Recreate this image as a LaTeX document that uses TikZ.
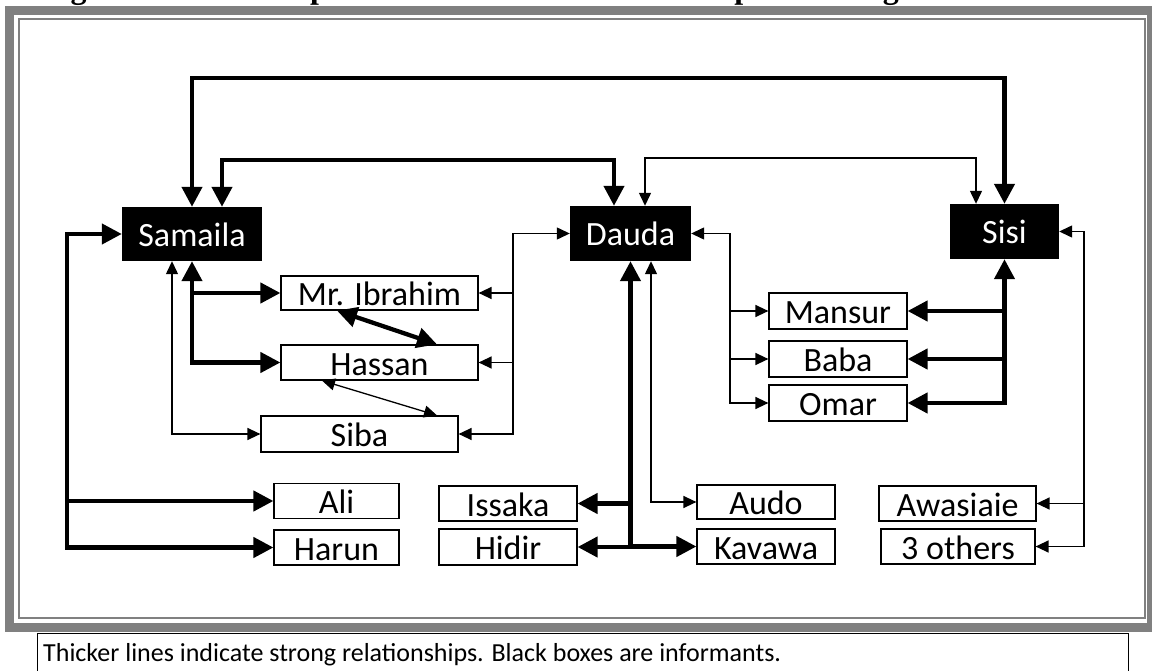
\documentclass[tikz,border=0pt]{standalone}
\usepackage{fontspec}
\setmainfont{Carlito}
\newfontfamily\titlefont{Liberation Serif}
\usetikzlibrary{arrows.meta,calc}

\definecolor{framegray}{HTML}{808080}

\tikzset{
  bigtip/.tip={Triangle[length=20pt,width=20pt]},
  smalltip/.tip={Triangle[length=13pt,width=12pt]},
  boxfont/.style={font=\fontsize{34}{38}\selectfont, text height=25pt, text depth=0pt},
  informant/.style={boxfont, fill=black, text=white, inner sep=0pt},
  person/.style={boxfont, draw=black, line width=1.2pt, fill=white, inner sep=0pt},
  strong/.style={line width=4.3pt, -bigtip},
  strongboth/.style={line width=4.3pt, bigtip-bigtip},
  weak/.style={line width=1.3pt, -smalltip},
  weakboth/.style={line width=1.3pt, smalltip-smalltip},
}

\begin{document}
\begin{tikzpicture}[x=1pt, y=-1pt]
\useasboundingbox (0,0) rectangle (1152,671);

% caption line above the frame: only the ends of its descenders lie on the page
\begin{scope}
  \clip (0,0) rectangle (1152,6);
  \node[anchor=base west, inner sep=0pt, font=\titlefont\bfseries\fontsize{32}{36}\selectfont]
    (title) at (42,-1.5) {Figure 4.1 An example of the structural relationships involving one informant.};
\end{scope}

\begin{scope}
\clip (0,0) rectangle (1152,671);
% double grey frame
\draw[framegray, line width=9pt] (9.5,11) rectangle (1151.5,627);
\draw[framegray, line width=2pt] (18.5,19) rectangle (1145,618);

% note box below the frame
\draw[black, line width=1pt] (37,633.5) rectangle (1128,690);
\end{scope}
\node[anchor=base west, inner sep=0pt, font=\fontsize{26}{30}\selectfont]
  (note) at (43,661) {Thicker lines indicate strong relationships. Black boxes are informants.};

% informants
\node[informant, minimum width=140pt, minimum height=54pt] (samaila) at (192,234) {Samaila};
\node[informant, minimum width=121pt, minimum height=55pt] (dauda) at (630.5,233.5) {Dauda};
\node[informant, minimum width=109pt, minimum height=55pt] (sisi) at (1004.5,231.5) {Sisi};

% other people
\node[person, minimum width=197pt, minimum height=34pt] (ibrahim) at (379.5,293) {Mr. Ibrahim};
\node[person, minimum width=197pt, minimum height=35pt] (hassan) at (379.5,362.5) {Hassan};
\node[person, minimum width=197pt, minimum height=36pt] (siba) at (359.5,434) {Siba};
\node[person, minimum width=125pt, minimum height=35pt] (ali) at (336.5,501) {Ali};
\node[person, minimum width=125pt, minimum height=35pt] (harun) at (336.5,547.5) {Harun};
\node[person, minimum width=138pt, minimum height=35pt] (issaka) at (508,503.5) {Issaka};
\node[person, minimum width=138pt, minimum height=36pt] (hidir) at (508,547) {Hidir};
\node[person, minimum width=138pt, minimum height=34pt] (audo) at (766,502) {Audo};
\node[person, minimum width=138pt, minimum height=35pt] (kavawa) at (766,546.5) {Kavawa};
\node[person, minimum width=157pt, minimum height=35pt] (awasiaie) at (957.5,503.5) {Awasiaie};
\node[person, minimum width=154pt, minimum height=35pt] (others) at (958,546.5) {3 others};
\node[person, minimum width=138pt, minimum height=36pt] (mansur) at (838,311) {Mansur};
\node[person, minimum width=138pt, minimum height=36pt] (baba) at (838,359) {Baba};
\node[person, minimum width=138pt, minimum height=36pt] (omar) at (838,403) {Omar};

% routing levels and trunks
\coordinate (topA) at (0,78);
\coordinate (topB) at (0,160);
\coordinate (topC) at (0,158);
\coordinate (lt) at (67,0);
\coordinate (dl) at (513,0);
\coordinate (dr) at (730,0);
\coordinate (sr) at (1084,0);

% links between the informants
\draw[strongboth] (samaila.north) -- (samaila.north |- topA) -- (sisi.north |- topA) -- (sisi.north);
\draw[strongboth] ([xshift=30pt]samaila.north) -- ([xshift=30pt]samaila.north |- topB)
  -- ([xshift=-16.5pt]dauda.north |- topB) -- ([xshift=-16.5pt]dauda.north);
\draw[weakboth] ([xshift=14.5pt]dauda.north) -- ([xshift=14.5pt]dauda.north |- topC)
  -- ([xshift=-28.5pt]sisi.north |- topC) -- ([xshift=-28.5pt]sisi.north);

% Samaila's ties
\draw[strongboth] (samaila.west) -- (lt |- samaila.west) -- (lt |- harun.west) -- (harun.west);
\draw[strong] (lt |- ali.west) -- (ali.west);
\draw[strongboth] (samaila.south) -- (samaila.south |- hassan.west) -- (hassan.west);
\draw[strong] (samaila.south |- ibrahim.west) -- (ibrahim.west);
\draw[weakboth] ([xshift=-20pt]samaila.south) -- ([xshift=-20pt]samaila.south |- siba.west) -- (siba.west);

% ties among Samaila's contacts
\draw[strongboth] ([xshift=-42.5pt]ibrahim.south) -- ([xshift=57.5pt]hassan.north);
\draw[weakboth] ([xshift=-57.5pt]hassan.south) -- ([xshift=77.5pt]siba.north);

% Dauda's ties
\draw[weakboth] (dauda.west) -- (dl |- dauda.west) -- (dl |- siba.east) -- (siba.east);
\draw[weak] (dl |- ibrahim.east) -- (ibrahim.east);
\draw[weak] (dl |- hassan.east) -- (hassan.east);
\draw[strongboth] (dauda.south) -- (dauda.south |- hidir.east) -- (hidir.east);
\draw[strong] (dauda.south |- issaka.east) -- (issaka.east);
\draw[strong] (dauda.south |- kavawa.west) -- (kavawa.west);
\draw[weakboth] ([xshift=20.5pt]dauda.south) -- ([xshift=20.5pt]dauda.south |- audo.west) -- (audo.west);
\draw[weakboth] (dauda.east) -- (dr |- dauda.east) -- (dr |- omar.west) -- (omar.west);
\draw[weak] (dr |- mansur.west) -- (mansur.west);
\draw[weak] (dr |- baba.west) -- (baba.west);

% Sisi's ties
\draw[strongboth] (sisi.south) -- (sisi.south |- omar.east) -- (omar.east);
\draw[strong] (sisi.south |- mansur.east) -- (mansur.east);
\draw[strong] (sisi.south |- baba.east) -- (baba.east);
\draw[weakboth] (sisi.east) -- (sr |- sisi.east) -- (sr |- others.east) -- (others.east);
\draw[weak] (sr |- awasiaie.east) -- (awasiaie.east);
\end{tikzpicture}
\end{document}
